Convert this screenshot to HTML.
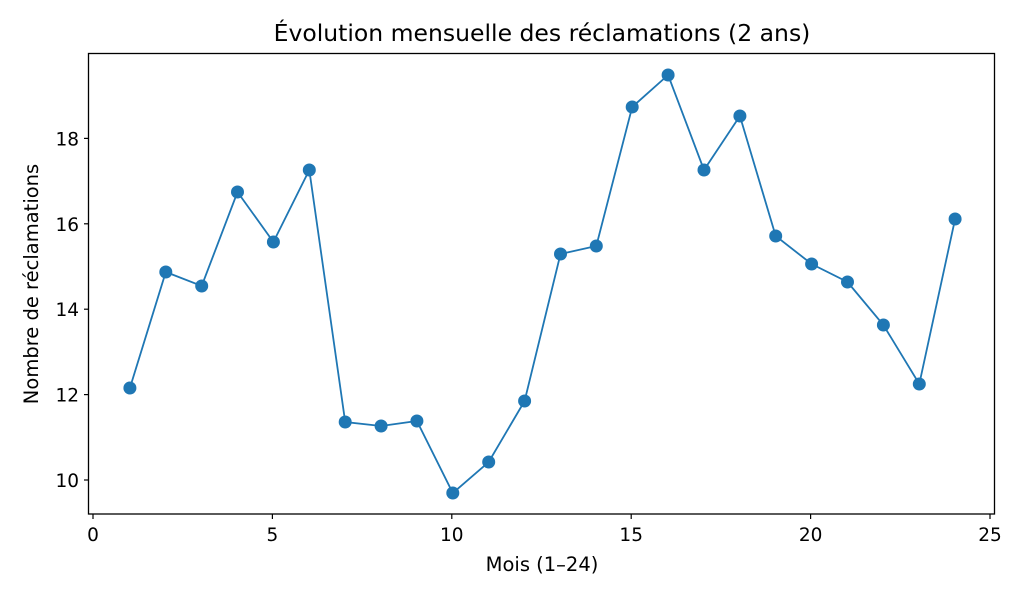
<!DOCTYPE html>
<html><head><meta charset="utf-8"><style>body{margin:0;background:#fff}svg{display:block}text{font-family:"DejaVu Sans","Liberation Sans",sans-serif;fill:#000}</style></head><body>
<svg width="1024" height="597" viewBox="0 0 1024 597">
<rect width="1024" height="597" fill="#fff"/>
<text x="542" y="41" font-size="23.5" text-anchor="middle">Évolution mensuelle des réclamations (2 ans)</text>
<g stroke="#000" stroke-width="1.2">
<line x1="93" y1="514" x2="93" y2="519"/><line x1="272.4" y1="514" x2="272.4" y2="519"/><line x1="451.8" y1="514" x2="451.8" y2="519"/><line x1="631.2" y1="514" x2="631.2" y2="519"/><line x1="810.6" y1="514" x2="810.6" y2="519"/><line x1="990" y1="514" x2="990" y2="519"/>
<line x1="84" y1="480" x2="89" y2="480"/><line x1="84" y1="394.6" x2="89" y2="394.6"/><line x1="84" y1="309.2" x2="89" y2="309.2"/><line x1="84" y1="223.8" x2="89" y2="223.8"/><line x1="84" y1="138.4" x2="89" y2="138.4"/>
</g>
<g font-size="18.5" text-anchor="middle">
<text x="93" y="541">0</text><text x="272.4" y="541">5</text><text x="451.8" y="541">10</text><text x="631.2" y="541">15</text><text x="810.6" y="541">20</text><text x="990" y="541">25</text>
</g>
<g font-size="18.5" text-anchor="end">
<text x="79" y="487">10</text><text x="79" y="401.6">12</text><text x="79" y="316.2">14</text><text x="79" y="230.8">16</text><text x="79" y="145.4">18</text>
</g>
<text x="542" y="571" font-size="19.5" text-anchor="middle">Mois (1–24)</text>
<text transform="translate(38,284) rotate(-90)" font-size="19.5" text-anchor="middle">Nombre de réclamations</text>
<polyline fill="none" stroke="#1f77b4" stroke-width="1.8" points="129.9,388 165.8,272 201.7,286 237.5,192 273.4,242 309.3,170 345.2,422 381.1,426 416.9,421 452.8,493 488.7,462 524.6,401 560.5,254 596.3,246 632.2,107 668.1,75 704,170 739.9,116 775.7,236 811.6,264 847.5,282 883.4,325 919.3,384 955.1,219"/>
<g fill="#1f77b4">
<circle cx="129.9" cy="388" r="6.5"/><circle cx="165.8" cy="272" r="6.5"/><circle cx="201.7" cy="286" r="6.5"/><circle cx="237.5" cy="192" r="6.5"/><circle cx="273.4" cy="242" r="6.5"/><circle cx="309.3" cy="170" r="6.5"/><circle cx="345.2" cy="422" r="6.5"/><circle cx="381.1" cy="426" r="6.5"/><circle cx="416.9" cy="421" r="6.5"/><circle cx="452.8" cy="493" r="6.5"/><circle cx="488.7" cy="462" r="6.5"/><circle cx="524.6" cy="401" r="6.5"/><circle cx="560.5" cy="254" r="6.5"/><circle cx="596.3" cy="246" r="6.5"/><circle cx="632.2" cy="107" r="6.5"/><circle cx="668.1" cy="75" r="6.5"/><circle cx="704" cy="170" r="6.5"/><circle cx="739.9" cy="116" r="6.5"/><circle cx="775.7" cy="236" r="6.5"/><circle cx="811.6" cy="264" r="6.5"/><circle cx="847.5" cy="282" r="6.5"/><circle cx="883.4" cy="325" r="6.5"/><circle cx="919.3" cy="384" r="6.5"/><circle cx="955.1" cy="219" r="6.5"/>
</g>
<rect x="88.5" y="53.5" width="906" height="460.5" fill="none" stroke="#000" stroke-width="1.3"/>
</svg>
</body></html>
